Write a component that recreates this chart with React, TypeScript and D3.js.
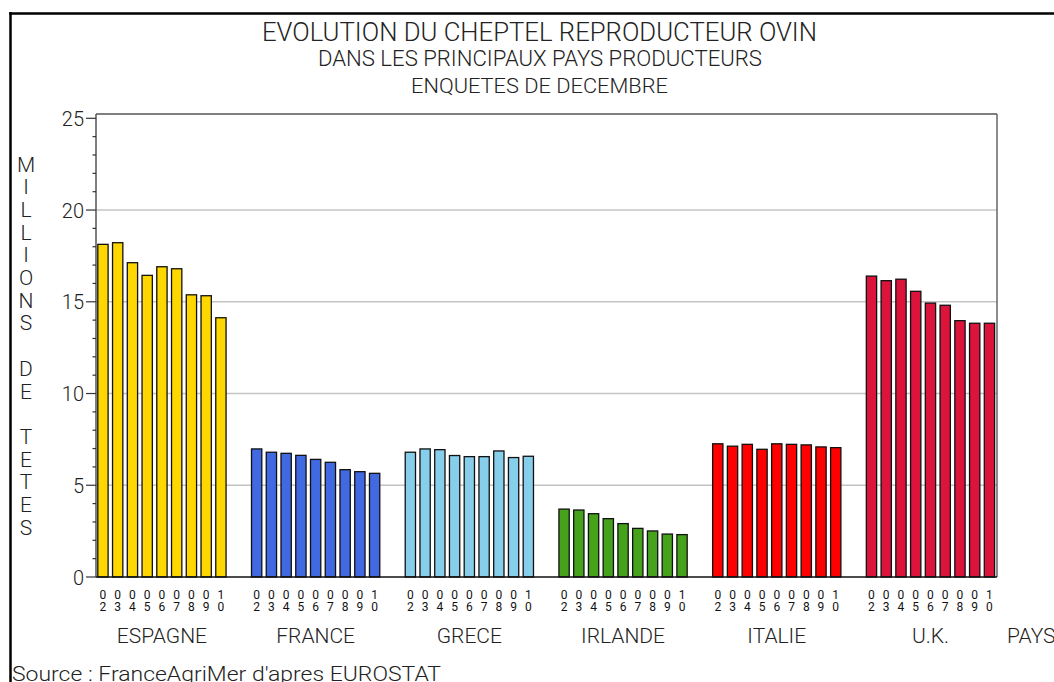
import React from "react";
import * as d3 from "d3";

const COUNTRIES = ["ESPAGNE", "FRANCE", "GRECE", "IRLANDE", "ITALIE", "U.K."];
const YEARS = ["02", "03", "04", "05", "06", "07", "08", "09", "10"];
const ESPAGNE = [18.13, 18.22, 17.13, 16.44, 16.91, 16.8, 15.38, 15.33, 14.13];
const FRANCE = [6.98, 6.8, 6.74, 6.63, 6.41, 6.25, 5.85, 5.74, 5.65];
const GRECE = [6.8, 6.98, 6.94, 6.62, 6.56, 6.56, 6.87, 6.51, 6.58];
const IRLANDE = [3.7, 3.65, 3.45, 3.18, 2.91, 2.65, 2.51, 2.34, 2.31];
const ITALIE = [7.26, 7.13, 7.23, 6.96, 7.26, 7.23, 7.2, 7.09, 7.05];
const UK = [16.4, 16.15, 16.23, 15.57, 14.93, 14.81, 13.97, 13.83, 13.83];
const COLORS = ["#FFD700", "#4169E1", "#87CEEB", "#45A21A", "#FF0000", "#DC143C"];
const Y_TICKS = [0, 5, 10, 15, 20, 25];
const Y_LABEL = ["M", "I", "L", "L", "I", "O", "N", "S", "", "D", "E", "", "T", "E", "T", "E", "S"];
const TITLE = "EVOLUTION DU CHEPTEL REPRODUCTEUR OVIN";
const SUB1 = "DANS LES PRINCIPAUX PAYS PRODUCTEURS";
const SUB2 = "ENQUETES DE DECEMBRE";
const SOURCE = "Source : FranceAgriMer d'apres EUROSTAT";
const X_TITLE = "PAYS";

const SERIES = [ESPAGNE, FRANCE, GRECE, IRLANDE, ITALIE, UK];

const FONT = "Roboto, 'DejaVu Sans', sans-serif";

export default function App() {
  const W = 1054, H = 682;
  const plotL = 96, plotR = 997, plotT = 114, plotB = 577;
  const y = d3.scaleLinear().domain([0, 25]).range([577, 118.3]);
  const gx = d3.scaleBand<string>().domain(COUNTRIES).range([97.3, 995.1]).paddingInner(0.159).paddingOuter(0);
  const bx = d3.scaleBand<string>().domain(YEARS).range([0, gx.bandwidth()]).paddingInner(0.234).paddingOuter(0);
  const minor = d3.range(0, 26, 1).filter((v) => v % 5 !== 0);

  return (
    <svg width={W} height={H} style={{ position: "absolute", left: 0, top: 0, background: "#fff" }} fontFamily={FONT} fontWeight={300}>
      <rect x={0} y={0} width={W} height={H} fill="#fff" />
      {/* outer border */}
      <line x1={10.5} x2={10.5} y1={12} y2={H} stroke="#000" strokeWidth={2.5} />
      <line x1={9.25} x2={W} y1={13.5} y2={13.5} stroke="#000" strokeWidth={2.5} />

      {/* titles */}
      <text x={539.5} y={41} fontSize={26} textAnchor="middle" textLength={555} lengthAdjust="spacingAndGlyphs" fill="#222">{TITLE}</text>
      <text x={540} y={66} fontSize={22} textAnchor="middle" textLength={444} lengthAdjust="spacingAndGlyphs" fill="#222">{SUB1}</text>
      <text x={539.5} y={93} fontSize={21} textAnchor="middle" textLength={257} lengthAdjust="spacingAndGlyphs" fill="#222">{SUB2}</text>

      {/* grid */}
      {Y_TICKS.filter((t) => t > 0 && t < 25).map((t) => (
        <line key={"g" + t} x1={plotL} x2={plotR} y1={y(t)} y2={y(t)} stroke="#c4c4c4" strokeWidth={1.5} />
      ))}

      {/* bars */}
      {COUNTRIES.map((c, ci) => (
        <g key={c} transform={`translate(${gx(c)},0)`}>
          {YEARS.map((yr, yi) => {
            const v = SERIES[ci][yi];
            return (
              <rect key={yr} x={bx(yr)! + 0.5} y={y(v)} width={bx.bandwidth() - 1} height={y(0) - y(v)}
                fill={COLORS[ci]} stroke="#111" strokeWidth={1.3} />
            );
          })}
        </g>
      ))}

      {/* frame */}
      <line x1={plotL} x2={plotR} y1={plotT} y2={plotT} stroke="#555" strokeWidth={1.5} />
      <line x1={plotR} x2={plotR} y1={plotT} y2={plotB} stroke="#666" strokeWidth={1.5} />
      <line x1={plotL} x2={plotL} y1={plotT} y2={plotB} stroke="#555" strokeWidth={1.5} />
      <line x1={plotL} x2={plotR} y1={plotB} y2={plotB} stroke="#111" strokeWidth={1.5} />

      {/* y ticks */}
      {Y_TICKS.map((t) => (
        <g key={"t" + t}>
          <line x1={86} x2={plotL} y1={y(t)} y2={y(t)} stroke="#333" strokeWidth={1.2} />
          <text x={84} y={y(t) + 7.5} fontSize={20} textAnchor="end" fill="#222">{t}</text>
        </g>
      ))}
      {minor.map((t) => (
        <line key={"m" + t} x1={92.5} x2={plotL} y1={y(t)} y2={y(t)} stroke="#333" strokeWidth={1.2} />
      ))}

      {/* vertical y label */}
      {Y_LABEL.map((ch, i) => (
        <text key={"yl" + i} x={26} y={164 + i * 22.7 + 7.5} fontSize={21} textAnchor="middle" fill="#222">{ch}</text>
      ))}

      {/* year labels */}
      {COUNTRIES.map((c) => (
        <g key={"yr" + c} transform={`translate(${gx(c)},0)`}>
          {YEARS.map((yr) => {
            const cx = bx(yr)! + bx.bandwidth() / 2;
            return (
              <g key={yr}>
                <text x={cx} y={598.5} fontSize={12} fontWeight={400} textAnchor="middle" fill="#111">{yr[0]}</text>
                <text x={cx} y={610.5} fontSize={12} fontWeight={400} textAnchor="middle" fill="#111">{yr[1]}</text>
              </g>
            );
          })}
        </g>
      ))}

      {/* country labels */}
      {COUNTRIES.map((c) => (
        <text key={"c" + c} x={gx(c)! + gx.bandwidth() / 2} y={643} fontSize={21} textAnchor="middle" fill="#222">{c}</text>
      ))}
      <text x={1007} y={643} fontSize={21} fill="#222">{X_TITLE}</text>

      {/* source */}
      <text x={12} y={681} fontSize={21} textLength={429} lengthAdjust="spacingAndGlyphs" fill="#222">{SOURCE}</text>
    </svg>
  );
}
